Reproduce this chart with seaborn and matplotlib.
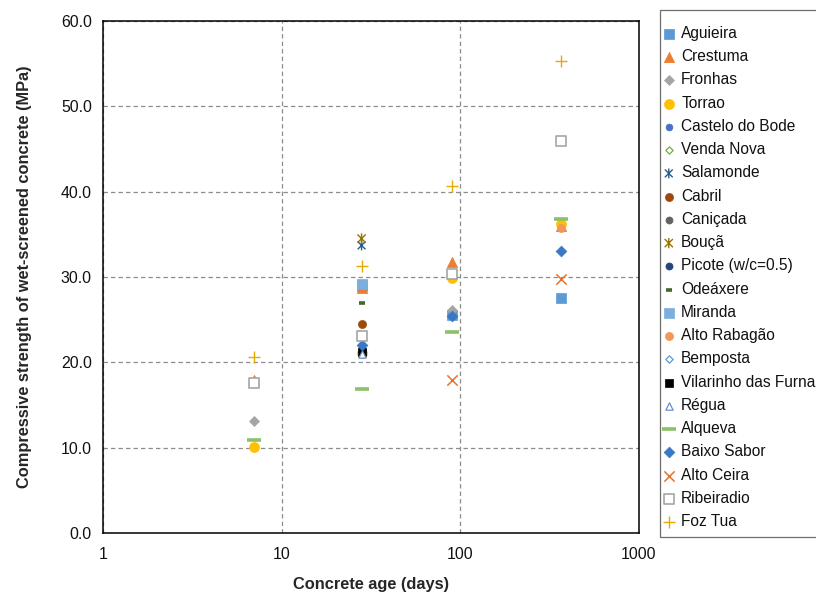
import numpy as np
import pandas as pd
import matplotlib
matplotlib.use("Agg")
import matplotlib.pyplot as plt
from matplotlib.path import Path
from matplotlib.patches import Rectangle
from matplotlib.ticker import FixedLocator, FuncFormatter, NullLocator
import seaborn as sns

# ---------------- data ----------------
ages = [7, 28, 90, 365]
series_names = ["Aguieira", "Crestuma", "Fronhas", "Torrao", "Castelo do Bode",
                "Venda Nova", "Salamonde", "Cabril", "Caniçada", "Bouçã",
                "Picote (w/c=0.5)", "Odeáxere", "Miranda", "Alto Rabagão",
                "Bemposta", "Vilarinho das Furnas", "Régua", "Alqueva",
                "Baixo Sabor", "Alto Ceira", "Ribeiradio", "Foz Tua"]
aguieira = [None, 29.0, 25.6, 27.5]
crestuma = [17.9, 28.7, 31.8, 36.0]
fronhas = [13.1, None, 26.1, None]
torrao = [10.1, 21.1, 29.9, 36.2]
castelo_do_bode = [None, 21.8, None, None]
venda_nova = [None, 21.5, None, None]
salamonde = [None, 33.7, None, None]
cabril = [None, 24.5, None, None]
canicada = [None, 21.6, None, None]
bouca = [None, 34.5, None, None]
picote = [None, 21.3, None, None]
odeaxere = [None, 26.9, None, None]
miranda = [None, 29.2, None, None]
alto_rabagao = [None, None, None, 35.8]
bemposta = [None, 21.4, None, None]
vilarinho = [None, 21.2, None, None]
regua = [None, 21.0, None, None]
alqueva = [10.9, 16.9, 23.5, 36.8]
baixo_sabor = [None, 22.0, 25.4, 33.1]
alto_ceira = [None, None, 17.9, 29.8]
ribeiradio = [17.6, 23.1, 30.4, 45.9]
foz_tua = [20.6, 31.3, 40.7, 55.3]
series_values = [aguieira, crestuma, fronhas, torrao, castelo_do_bode, venda_nova,
                 salamonde, cabril, canicada, bouca, picote, odeaxere, miranda,
                 alto_rabagao, bemposta, vilarinho, regua, alqueva, baixo_sabor,
                 alto_ceira, ribeiradio, foz_tua]
x_ticks = [1, 10, 100, 1000]
y_ticks = [0, 10, 20, 30, 40, 50, 60]

# ---------------- styles ----------------
star = Path([(0, -1), (0, 1), (-0.8, -0.8), (0.8, 0.8), (-0.8, 0.8), (0.8, -0.8)],
            [Path.MOVETO, Path.LINETO] * 3)
# marker, size, facecolor, edgecolor, linewidth
styles = {
    "Aguieira": ("s", 50, "#5B9BD5", "#5B9BD5", 0.5),
    "Crestuma": ("^", 55, "#ED7D31", "#ED7D31", 0.5),
    "Fronhas": ("D", 26, "#A5A5A5", "#A5A5A5", 0.5),
    "Torrao": ("o", 52, "#FFC000", "#FFC000", 0.5),
    "Castelo do Bode": ("o", 24, "#4472C4", "#4472C4", 0.5),
    "Venda Nova": ("D", 14, "white", "#70AD47", 0.9),
    "Salamonde": (star, 50, "none", "#255E91", 1.0),
    "Cabril": ("o", 34, "#9E480E", "#9E480E", 0.5),
    "Caniçada": ("o", 26, "#636363", "#636363", 0.5),
    "Bouçã": (star, 55, "none", "#997300", 1.0),
    "Picote (w/c=0.5)": ("o", 26, "#264478", "#264478", 0.5),
    "Odeáxere": ("_", 25, "#43682B", "#43682B", 2.6),
    "Miranda": ("s", 50, "#7CAFDD", "#7CAFDD", 0.5),
    "Alto Rabagão": ("o", 34, "#F1975A", "#F1975A", 0.5),
    "Bemposta": ("D", 14, "white", "#5B9BD5", 0.9),
    "Vilarinho das Furnas": ("s", 28, "black", "black", 0.5),
    "Régua": ("^", 28, "white", "#698ED0", 0.9),
    "Alqueva": ("_", 110, "#8CC168", "#8CC168", 2.6),
    "Baixo Sabor": ("D", 30, "#3B78C3", "#3B78C3", 0.5),
    "Alto Ceira": ("x", 55, "#E8722A", "#E8722A", 1.1),
    "Ribeiradio": ("s", 55, "white", "#A5A5A5", 1.2),
    "Foz Tua": ("+", 80, "#E5AC00", "#E5AC00", 1.0),
}

sns.set_theme(style="white")
plt.rcParams["font.family"] = ["Liberation Sans", "DejaVu Sans"]

fig = plt.figure(figsize=(8.16, 5.97), dpi=100)
ax = fig.add_axes([103 / 816, 1 - 533 / 597, (639 - 103) / 816, (533 - 21) / 597])

for name, vals in zip(series_names, series_values):
    df = pd.DataFrame({"age": ages, "mpa": vals}).dropna()
    marker, size, fc, ec, lw = styles[name]
    sns.scatterplot(data=df, x="age", y="mpa", ax=ax, marker=marker, s=size,
                    facecolor=fc, edgecolor=ec, linewidth=lw, label=name,
                    zorder=3, clip_on=False)

ax.set_xscale("log")
ax.set_xlim(1, 1000)
ax.set_ylim(0, 60)
ax.xaxis.set_major_locator(FixedLocator(x_ticks))
ax.xaxis.set_minor_locator(NullLocator())
ax.xaxis.set_major_formatter(FuncFormatter(lambda v, p: f"{v:g}"))
ax.yaxis.set_major_locator(FixedLocator(y_ticks))
ax.yaxis.set_major_formatter(FuncFormatter(lambda v, p: f"{v:.1f}"))
ax.tick_params(axis="both", length=0, labelsize=11.4, colors="#111111")
ax.tick_params(axis="x", pad=10)
ax.tick_params(axis="y", pad=8)
ax.grid(True, which="major", color="#8C8C8C", linestyle=(0, (3.5, 2.5)), linewidth=0.9)
ax.set_axisbelow(True)
for sp in ax.spines.values():
    sp.set_color("black")
    sp.set_linewidth(1.1)
    sp.set_visible(True)

ax.set_xlabel("Concrete age (days)", fontsize=11.8, fontweight="bold", labelpad=11)
ax.set_ylabel("Compressive strength of wet-screened concrete (MPa)", fontsize=11.8,
              fontweight="bold", labelpad=21)

leg = ax.legend(loc="upper left", bbox_to_anchor=(661 / 816, 1 - 26 / 597),
                bbox_transform=fig.transFigure, frameon=False, fontsize=11.2,
                handlelength=1.0, handletextpad=0.3, labelspacing=0.53,
                borderpad=0, borderaxespad=0, markerscale=1.0, scatterpoints=1)
for t in leg.get_texts():
    t.set_color("#111111")

fig.patches.append(Rectangle((660 / 816, 1 - 537 / 597), 0.3, (537 - 10) / 597,
                             transform=fig.transFigure, fill=False,
                             edgecolor="#6E6E6E", linewidth=0.9))

fig.savefig("out.png", dpi=100)
